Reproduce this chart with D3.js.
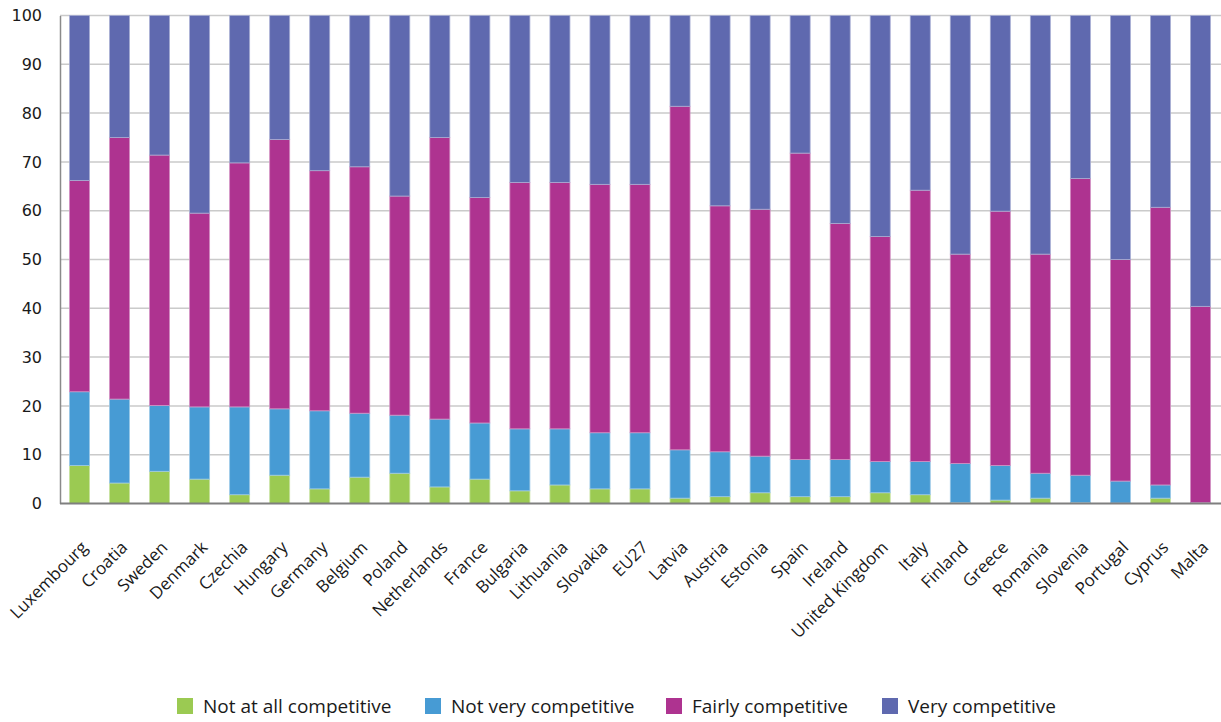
<!DOCTYPE html>
<html>
<head>
<meta charset="utf-8">
<script src="https://cdn.jsdelivr.net/npm/d3@7"></script>
<style>
  html, body { margin: 0; padding: 0; background: #fff; }
  svg { display: block; }
</style>
</head>
<body>
<svg id="chart" width="1221" height="722"></svg>
<script>
const categories = ["Luxembourg","Croatia","Sweden","Denmark","Czechia","Hungary","Germany","Belgium","Poland","Netherlands","France","Bulgaria","Lithuania","Slovakia","EU27","Latvia","Austria","Estonia","Spain","Ireland","United Kingdom","Italy","Finland","Greece","Romania","Slovenia","Portugal","Cyprus","Malta"];
const seriesNames = ["Not at all competitive","Not very competitive","Fairly competitive","Very competitive"];
const notAtAll  = [7.8,4.2,6.6,5.0,1.8,5.8,3.0,5.4,6.2,3.4,5.0,2.6,3.8,3.0,3.0,1.1,1.4,2.2,1.4,1.4,2.2,1.8,0.2,0.7,1.1,0.2,0.1,1.1,0.0];
const notVery   = [15.1,17.2,13.5,14.8,18.0,13.6,16.0,13.1,11.9,13.9,11.5,12.7,11.5,11.5,11.5,9.9,9.2,7.5,7.6,7.6,6.4,6.8,8.0,7.1,5.1,5.6,4.5,2.7,0.2];
const fairly    = [43.3,53.6,51.3,39.7,50.0,55.2,49.2,50.5,44.9,57.7,46.2,50.5,50.5,50.9,50.9,70.4,50.4,50.6,62.8,48.4,46.1,55.6,42.9,52.1,44.9,60.8,45.4,56.9,40.2];
const very      = [33.8,25.0,28.6,40.5,30.2,25.4,31.8,31.0,37.0,25.0,37.3,34.2,34.2,34.6,34.6,18.6,39.0,39.7,28.2,42.6,45.3,35.8,48.9,40.1,48.9,33.4,50.0,39.3,59.6];
const yTicks = [0,10,20,30,40,50,60,70,80,90,100];
const colors = ["#9bca52","#479bd4","#ae3390","#5f69af"];

const table = categories.map((c, i) => ({
  country: c,
  [seriesNames[0]]: notAtAll[i],
  [seriesNames[1]]: notVery[i],
  [seriesNames[2]]: fairly[i],
  [seriesNames[3]]: very[i]
}));

const svg = d3.select("#chart");

const x = d3.scaleBand().domain(categories).range([59.5, 1220.5]).paddingInner(0.5).paddingOuter(0.25);
const y = d3.scaleLinear().domain([0, 100]).range([503.5, 15.5]);

// gridlines
svg.append("g")
  .selectAll("line")
  .data(yTicks.filter(d => d > 0))
  .join("line")
  .attr("x1", 60).attr("x2", 1221)
  .attr("y1", d => y(d)).attr("y2", d => y(d))
  .attr("stroke", "#cacaca").attr("stroke-width", 1.5);

// stacked bars
const stack = d3.stack().keys(seriesNames)(table);
svg.append("g")
  .selectAll("g")
  .data(stack)
  .join("g")
  .attr("fill", (d, i) => colors[i])
  .attr("stroke", (d, i) => d3.interpolateRgb(colors[i], "#ffffff")(0.45))
  .attr("stroke-width", 0.8)
  .selectAll("rect")
  .data(d => d)
  .join("rect")
  .attr("x", d => x(d.data.country))
  .attr("width", x.bandwidth())
  .attr("y", d => y(d[1]))
  .attr("height", d => Math.max(0, y(d[0]) - y(d[1])));

// y axis
const yAxis = d3.axisLeft(y).tickValues(yTicks).tickSize(0).tickPadding(18);
const yg = svg.append("g").attr("transform", "translate(60,0)").call(yAxis);
yg.select(".domain").attr("stroke", "#8a8a8a").attr("stroke-width", 1.5);
yg.selectAll("text")
  .attr("font-family", "DejaVu Sans, sans-serif")
  .attr("font-size", 16)
  .attr("fill", "#1a1a1a");

// x axis
const xAxis = d3.axisBottom(x).tickSize(0).tickPadding(0);
const xg = svg.append("g").attr("transform", "translate(0,503.5)").call(xAxis);
xg.select(".domain").attr("d", "M60,0H1221").attr("stroke", "#7f7f7f").attr("stroke-width", 2);
xg.selectAll("text")
  .attr("font-family", "Open Sans, sans-serif")
  .attr("font-size", 17)
  .attr("fill", "#1a1a1a")
  .attr("text-anchor", "end")
  .attr("dy", 0)
  .attr("transform", "translate(9,45) rotate(-45)");

// legend
const legendX = [177, 425, 666, 882];
const leg = svg.append("g")
  .selectAll("g")
  .data(seriesNames)
  .join("g")
  .attr("transform", (d, i) => `translate(${legendX[i]},698)`);
leg.append("rect").attr("width", 16).attr("height", 16).attr("fill", (d, i) => colors[i]);
leg.append("text")
  .attr("x", 26).attr("y", 8).attr("dy", "0.35em")
  .attr("font-family", "Open Sans, sans-serif")
  .attr("font-size", 19)
  .attr("fill", "#1a1a1a")
  .text(d => d);
</script>
</body>
</html>
